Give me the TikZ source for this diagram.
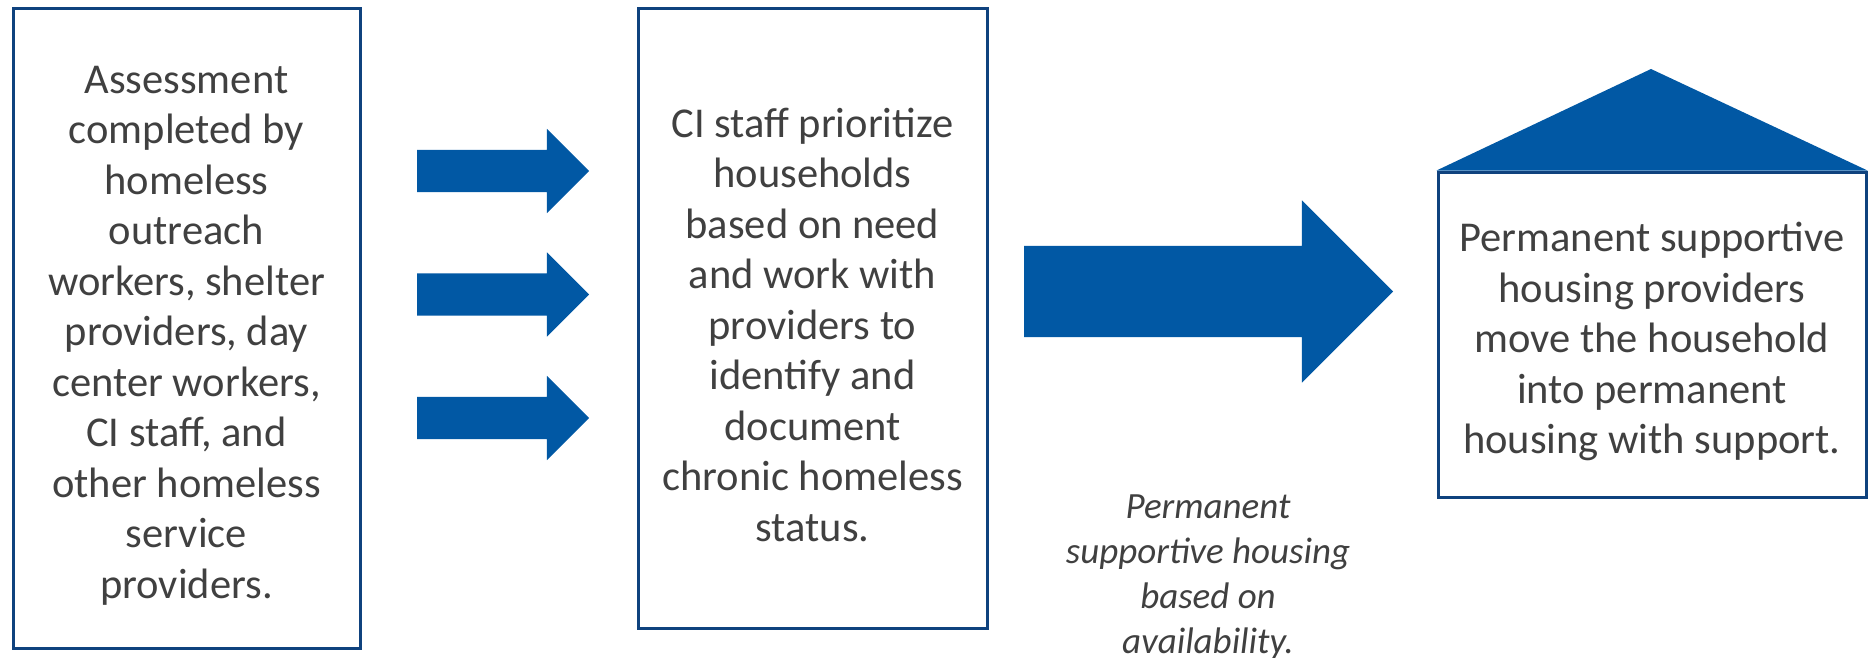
\documentclass[tikz,border=0pt]{standalone}
\usepackage{fontspec}
\setmainfont{Carlito}
\usetikzlibrary{shapes.arrows}
\definecolor{arrowblue}{RGB}{1,88,164}
\definecolor{boxblue}{RGB}{15,66,126}
\definecolor{textgray}{RGB}{64,64,64}

\begin{document}
\begin{tikzpicture}[x=1pt,y=-1pt,
    stepbox/.style={draw=boxblue, line width=3pt, fill=white, inner sep=0pt},
    boxtext/.style={align=center, text=textgray, font=\fontsize{42.5}{50.5}\selectfont, inner sep=0pt},
    smallarrow/.style={single arrow, fill=arrowblue, anchor=tail, inner xsep=0pt, inner ysep=21pt,
      outer sep=0pt, single arrow head extend=21pt, minimum height=172pt},
    bigarrow/.style={single arrow, fill=arrowblue, anchor=tail, inner xsep=0pt, inner ysep=45.5pt,
      outer sep=0pt, single arrow head extend=45.5pt, minimum height=369pt},
    note/.style={align=center, text=textgray, font=\itshape\fontsize{37}{44.7}\selectfont, inner sep=0pt}
  ]
  \useasboundingbox (0,0) rectangle (1870,658);

  % assessment and prioritizing
  \node[stepbox, minimum width=347pt, minimum height=639pt] (assess) at (186.5,328.5) {};
  \node[boxtext] (assessTxt) at ([yshift=-7pt]assess.center)
    {Assessment\\completed by\\homeless\\outreach\\workers, shelter\\providers, day\\center workers,\\CI staff, and\\other homeless\\service\\providers.};
  \node[stepbox, minimum width=349pt, minimum height=619pt] (prio) at (812.5,318.5) {};
  \node[boxtext] (prioTxt) at ([yshift=-6pt]prio.center)
    {CI staff prioritize\\households\\based on need\\and work with\\providers to\\identify and\\document\\chronic homeless\\status.};

  \node[smallarrow] (arrA) at (417,171) {};
  \node[smallarrow] (arrB) at (417,294.5) {};
  \node[smallarrow] (arrC) at (417,418) {};

  % move into housing
  \node[bigarrow] (arrBig) at (1024,291.5) {};
  \node[note, anchor=base] (note) at (1208,653)
    {Permanent\\supportive housing\\based on\\availability.};

  \node[stepbox, minimum width=428pt, minimum height=325pt] (house) at (1652,334.5) {};
  \node[boxtext] (houseTxt) at ([yshift=-7pt]house.center)
    {Permanent supportive\\housing providers\\move the household\\into permanent\\housing with support.};
  \coordinate (apex) at (1651,69);
  \fill[arrowblue] (house.north west) -- (apex) -- (house.north east) -- cycle;
\end{tikzpicture}
\end{document}
